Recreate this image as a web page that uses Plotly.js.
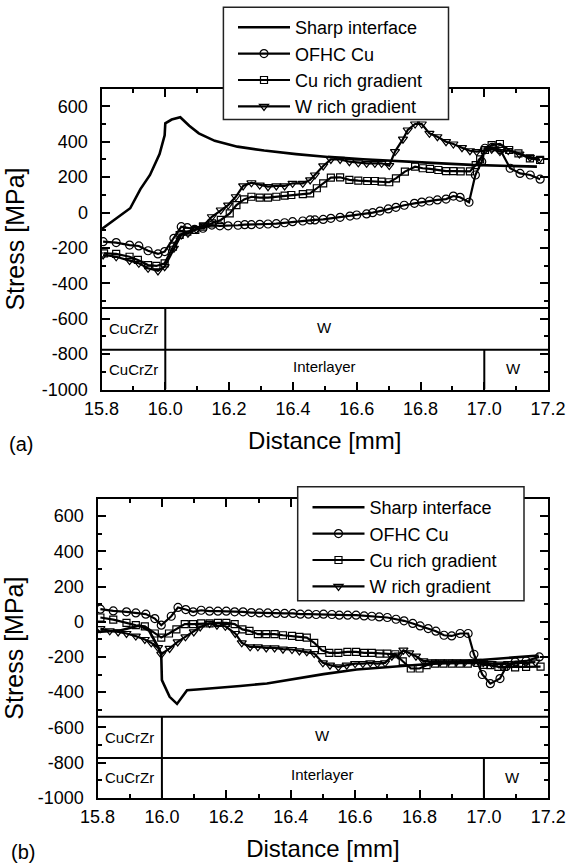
<!DOCTYPE html>
<html>
<head>
<meta charset="utf-8">
<script src="https://cdn.plot.ly/plotly-3.0.1.min.js"></script>
<style>
  html, body { margin: 0; padding: 0; background: #ffffff; }
  #chart { width: 570px; height: 867px; }
</style>
</head>
<body>
<div id="chart"></div>
<script>
// ---------------- DATA ----------------
const seriesNames = ["Sharp interface", "OFHC Cu", "Cu rich gradient", "W rich gradient"];

// Panel (a)
const aSharpX = [15.800, 15.890, 15.922, 15.952, 15.982, 15.998, 16.000, 16.020, 16.047, 16.075, 16.105, 16.155, 16.226, 16.310, 16.410, 16.510, 16.620, 16.730, 16.850, 16.960, 17.070, 17.165];
const aSharpY = [-95, 24, 132, 212, 330, 436, 504, 525, 538, 490, 447, 405, 372, 350, 330, 314, 301, 289, 279, 269, 263, 259];

const aOfhcX = [15.805, 15.846, 15.888, 15.917, 15.946, 15.977, 15.998, 16.027, 16.050, 16.069, 16.092, 16.118, 16.146, 16.171, 16.197, 16.228, 16.249, 16.270, 16.296, 16.322, 16.348, 16.374, 16.399, 16.431, 16.454, 16.469, 16.495, 16.519, 16.548, 16.579, 16.600, 16.631, 16.650, 16.673, 16.699, 16.723, 16.749, 16.781, 16.804, 16.828, 16.853, 16.880, 16.903, 16.924, 16.952, 16.972, 16.992, 17.002, 17.025, 17.050, 17.081, 17.112, 17.144, 17.175];
const aOfhcY = [-165, -170, -184, -189, -216, -234, -221, -146, -80, -86, -95, -89, -71, -75, -75, -72, -69, -69, -67, -65, -63, -58, -52, -48, -42, -42, -39, -33, -27, -20, -14, -8, -1, 8, 20, 29, 41, 52, 59, 65, 71, 76, 93, 86, 58, 212, 287, 363, 368, 355, 250, 221, 212, 188];

const aCuX = [15.808, 15.846, 15.888, 15.914, 15.946, 15.972, 15.998, 16.024, 16.045, 16.069, 16.094, 16.118, 16.146, 16.174, 16.202, 16.223, 16.247, 16.270, 16.296, 16.322, 16.348, 16.374, 16.395, 16.431, 16.454, 16.475, 16.495, 16.519, 16.548, 16.577, 16.605, 16.633, 16.657, 16.678, 16.702, 16.723, 16.751, 16.783, 16.807, 16.830, 16.856, 16.880, 16.903, 16.926, 16.955, 16.973, 16.987, 17.002, 17.023, 17.049, 17.078, 17.107, 17.143, 17.175];
const aCuY = [-231, -234, -250, -268, -297, -302, -287, -193, -127, -108, -99, -80, -61, -42, -5, 42, 74, 89, 84, 84, 89, 95, 99, 104, 108, 137, 165, 197, 199, 184, 180, 178, 178, 174, 171, 193, 231, 259, 250, 246, 240, 234, 234, 232, 232, 268, 300, 353, 381, 387, 353, 334, 306, 297];

const aWX = [15.805, 15.846, 15.888, 15.917, 15.946, 15.977, 15.998, 16.027, 16.050, 16.071, 16.097, 16.121, 16.146, 16.174, 16.197, 16.221, 16.244, 16.270, 16.296, 16.322, 16.348, 16.374, 16.399, 16.431, 16.454, 16.469, 16.495, 16.519, 16.548, 16.577, 16.605, 16.631, 16.657, 16.678, 16.702, 16.720, 16.745, 16.760, 16.783, 16.804, 16.828, 16.853, 16.880, 16.903, 16.930, 16.955, 16.976, 17.002, 17.023, 17.049, 17.075, 17.110, 17.143, 17.172];
const aWY = [-240, -250, -272, -287, -315, -330, -306, -202, -127, -118, -95, -71, -24, 14, 42, 89, 150, 168, 155, 146, 150, 150, 165, 165, 184, 212, 263, 300, 300, 287, 281, 278, 278, 278, 265, 344, 414, 466, 500, 500, 447, 428, 400, 387, 366, 349, 344, 353, 357, 344, 350, 330, 312, 300];

// Panel (b)
const bSharpX = [15.800, 15.870, 15.930, 15.960, 15.990, 15.998, 16.000, 16.024, 16.047, 16.078, 16.109, 16.171, 16.243, 16.326, 16.409, 16.502, 16.605, 16.709, 16.812, 16.915, 17.019, 17.100, 17.170];
const bSharpY = [-58, -50, -22, -50, -150, -190, -332, -427, -467, -389, -385, -374, -365, -351, -325, -298, -272, -257, -241, -228, -213, -202, -192];

const bOfhcX = [15.809, 15.849, 15.890, 15.919, 15.950, 15.978, 15.998, 16.029, 16.050, 16.074, 16.097, 16.122, 16.148, 16.174, 16.200, 16.226, 16.252, 16.278, 16.303, 16.329, 16.355, 16.381, 16.407, 16.430, 16.455, 16.479, 16.502, 16.528, 16.551, 16.577, 16.603, 16.628, 16.652, 16.675, 16.700, 16.727, 16.752, 16.779, 16.802, 16.827, 16.851, 16.876, 16.900, 16.926, 16.951, 16.969, 16.995, 17.020, 17.050, 17.070, 17.097, 17.131, 17.172];
const bOfhcY = [71, 61, 56, 50, 43, 18, -20, 31, 81, 69, 56, 65, 60, 60, 60, 56, 56, 52, 50, 50, 47, 47, 47, 43, 43, 41, 43, 41, 37, 37, 37, 33, 31, 27, 24, 14, 5, -10, -24, -39, -54, -77, -81, -67, -67, -185, -300, -352, -323, -253, -228, -223, -200];

const bCuX = [15.809, 15.849, 15.890, 15.919, 15.947, 15.978, 15.998, 16.022, 16.045, 16.071, 16.097, 16.122, 16.148, 16.174, 16.200, 16.226, 16.250, 16.272, 16.298, 16.324, 16.350, 16.376, 16.404, 16.427, 16.450, 16.473, 16.497, 16.520, 16.548, 16.576, 16.603, 16.628, 16.652, 16.676, 16.700, 16.725, 16.748, 16.773, 16.800, 16.822, 16.848, 16.874, 16.900, 16.925, 16.950, 16.980, 17.000, 17.020, 17.045, 17.063, 17.097, 17.131, 17.176];
const bCuY = [24, 12, -7, -20, -26, -67, -90, -67, -44, -14, -14, -10, -10, -7, -7, -14, -44, -52, -71, -71, -71, -77, -80, -86, -90, -120, -162, -177, -177, -171, -171, -177, -177, -181, -181, -185, -225, -266, -266, -247, -238, -238, -238, -238, -238, -234, -245, -247, -257, -257, -260, -257, -255];

const bWX = [15.809, 15.838, 15.864, 15.890, 15.919, 15.947, 15.967, 15.988, 15.998, 16.024, 16.049, 16.073, 16.099, 16.119, 16.148, 16.171, 16.197, 16.228, 16.248, 16.274, 16.298, 16.324, 16.350, 16.376, 16.404, 16.427, 16.450, 16.473, 16.500, 16.522, 16.548, 16.574, 16.600, 16.624, 16.647, 16.669, 16.693, 16.714, 16.734, 16.750, 16.768, 16.789, 16.812, 16.838, 16.864, 16.890, 16.915, 16.941, 16.967, 16.998, 17.024, 17.047, 17.075, 17.100, 17.130, 17.160];
const bWY = [-39, -52, -58, -67, -82, -101, -120, -147, -185, -152, -115, -86, -58, -30, -10, -20, -26, -67, -120, -143, -143, -149, -149, -156, -158, -166, -171, -181, -234, -247, -257, -247, -238, -238, -234, -238, -234, -196, -190, -162, -177, -196, -223, -228, -228, -228, -228, -228, -228, -234, -238, -241, -238, -236, -233, -230];

// Axis ticks
const xRange = [15.8, 17.2];
const yRange = [-1000, 700];
const xTickVals = [15.8, 16.0, 16.2, 16.4, 16.6, 16.8, 17.0, 17.2];
const xTickText = ["15.8", "16.0", "16.2", "16.4", "16.6", "16.8", "17.0", "17.2"];
const yTickVals = [-1000, -800, -600, -400, -200, 0, 200, 400, 600];
const yTickText = ["-1000", "-800", "-600", "-400", "-200", "0", "200", "400", "600"];

// Layer schematic (material bands)
const layerRowBounds = [-540, -775, -1000];
const interfaceX = 16.0;
const interlayerEndX = 17.0;
const rowLabels = [
  { text: "CuCrZr", x: 15.9, y: -656 },
  { text: "W", x: 16.5, y: -648 },
  { text: "CuCrZr", x: 15.9, y: -885 },
  { text: "Interlayer", x: 16.5, y: -868 },
  { text: "W", x: 17.09, y: -883 }
];
const panelLabels = ["(a)", "(b)"];

// ---------------- BUILD ----------------
const FONT = "Liberation Sans, Arial, Helvetica, sans-serif";

function mkTraces(sx, sy, ox, oy, cx, cy, wx, wy, xa, ya, leg) {
  return [
    { x: sx, y: sy, name: seriesNames[0], mode: "lines", xaxis: xa, yaxis: ya, legend: leg,
      line: { color: "#000", width: 2.6 } },
    { x: ox, y: oy, name: seriesNames[1], mode: "lines+markers", xaxis: xa, yaxis: ya, legend: leg,
      line: { color: "#000", width: 2.2 },
      marker: { symbol: "circle-open", size: 8, color: "#000", line: { width: 1.2, color: "#000" } } },
    { x: cx, y: cy, name: seriesNames[2], mode: "lines+markers", xaxis: xa, yaxis: ya, legend: leg,
      line: { color: "#000", width: 2.2 },
      marker: { symbol: "square-open", size: 7, color: "#000", line: { width: 1.2, color: "#000" } } },
    { x: wx, y: wy, name: seriesNames[3], mode: "lines+markers", xaxis: xa, yaxis: ya, legend: leg,
      line: { color: "#000", width: 2.2 },
      marker: { symbol: "triangle-down-open", size: 8, color: "#000", line: { width: 1.2, color: "#000" } } }
  ];
}

const traces = [].concat(
  mkTraces(aSharpX, aSharpY, aOfhcX, aOfhcY, aCuX, aCuY, aWX, aWY, "x", "y", "legend"),
  mkTraces(bSharpX, bSharpY, bOfhcX, bOfhcY, bCuX, bCuY, bWX, bWY, "x2", "y2", "legend2")
);

function xAxis(domain, anchor) {
  return {
    domain: domain, anchor: anchor, range: xRange,
    tickmode: "array", tickvals: xTickVals, ticktext: xTickText,
    ticks: "inside", ticklen: 8, tickwidth: 2, tickcolor: "#000",
    minor: { dtick: 0.1, tick0: 15.8, ticks: "inside", ticklen: 4, tickwidth: 2, tickcolor: "#000" },
    showline: true, linewidth: 2, linecolor: "#000", mirror: "ticks",
    showgrid: false, zeroline: false,
    tickfont: { family: FONT, size: 18, color: "#000" },
    ticklabelstandoff: 2,
    title: { text: "Distance [mm]", font: { family: FONT, size: 24, color: "#000" }, standoff: 14 }
  };
}
function yAxis(domain, anchor) {
  return {
    domain: domain, anchor: anchor, range: yRange,
    tickmode: "array", tickvals: yTickVals, ticktext: yTickText,
    ticks: "inside", ticklen: 8, tickwidth: 2, tickcolor: "#000",
    minor: { dtick: 100, tick0: 0, ticks: "inside", ticklen: 4, tickwidth: 2, tickcolor: "#000" },
    showline: true, linewidth: 2, linecolor: "#000", mirror: "ticks",
    showgrid: false, zeroline: false,
    tickfont: { family: FONT, size: 18, color: "#000" },
    ticklabelstandoff: 8,
    title: { text: "Stress [MPa]", font: { family: FONT, size: 25, color: "#000" }, standoff: 10 }
  };
}

const shapes = [];
const annotations = [];
[["x", "y"], ["x2", "y2"]].forEach(([xr, yr]) => {
  const ln = { color: "#000", width: 2 };
  shapes.push({ type: "line", xref: xr, yref: yr, x0: xRange[0], x1: xRange[1], y0: layerRowBounds[0], y1: layerRowBounds[0], line: ln });
  shapes.push({ type: "line", xref: xr, yref: yr, x0: xRange[0], x1: xRange[1], y0: layerRowBounds[1], y1: layerRowBounds[1], line: ln });
  shapes.push({ type: "line", xref: xr, yref: yr, x0: interfaceX, x1: interfaceX, y0: layerRowBounds[0], y1: layerRowBounds[2], line: ln });
  shapes.push({ type: "line", xref: xr, yref: yr, x0: interlayerEndX, x1: interlayerEndX, y0: layerRowBounds[1], y1: layerRowBounds[2], line: ln });
  rowLabels.forEach(l => annotations.push({
    xref: xr, yref: yr, x: l.x, y: l.y, text: l.text, showarrow: false,
    font: { family: FONT, size: 15, color: "#000" }, xanchor: "center", yanchor: "middle"
  }));
});
// legend frames (white boxes with a thin border, behind the legend entries)
const legendBoxes = [
  { x0: 223.4, x1: 448.5, y0: 7.3, y1: 119.5 },
  { x0: 297.7, x1: 524.0, y0: 486.7, y1: 600.7 }
];
legendBoxes.forEach(b => shapes.push({
  type: "rect", xref: "paper", yref: "paper", layer: "above",
  x0: b.x0 / 570, x1: b.x1 / 570, y0: 1 - b.y1 / 867, y1: 1 - b.y0 / 867,
  fillcolor: "#fff", line: { color: "#222", width: 1.5 }
}));

annotations.push({ xref: "paper", yref: "paper", x: 0.012, y: 1 - 444 / 867, text: panelLabels[0], showarrow: false,
  xanchor: "left", yanchor: "middle", font: { family: FONT, size: 20, color: "#000" } });
annotations.push({ xref: "paper", yref: "paper", x: 0.016, y: 1 - 852 / 867, text: panelLabels[1], showarrow: false,
  xanchor: "left", yanchor: "middle", font: { family: FONT, size: 20, color: "#000" } });

const legendStyle = {
  xanchor: "left", yanchor: "top", bgcolor: "rgba(0,0,0,0)", borderwidth: 0,
  font: { family: FONT, size: 18, color: "#000" }, itemwidth: 52, tracegroupgap: 0,
  itemclick: false, itemdoubleclick: false
};

const layout = {
  width: 570, height: 867,
  margin: { l: 0, r: 0, t: 0, b: 0, autoexpand: false },
  paper_bgcolor: "#fff", plot_bgcolor: "#fff",
  font: { family: FONT, color: "#000" },
  showlegend: true,
  xaxis: xAxis([101.5 / 570, 548.1 / 570], "y"),
  yaxis: yAxis([1 - 389.5 / 867, 1 - 88.6 / 867], "x"),
  xaxis2: xAxis([97.5 / 570, 548.3 / 570], "y2"),
  yaxis2: yAxis([1 - 797.7 / 867, 1 - 498.5 / 867], "x2"),
  legend: Object.assign({ x: 233 / 570, y: 1 - 9 / 867 }, legendStyle),
  legend2: Object.assign({ x: 307.5 / 570, y: 1 - 489 / 867 }, legendStyle),
  shapes: shapes,
  annotations: annotations
};

Plotly.newPlot("chart", traces, layout, { staticPlot: true, displayModeBar: false });
</script>
</body>
</html>
